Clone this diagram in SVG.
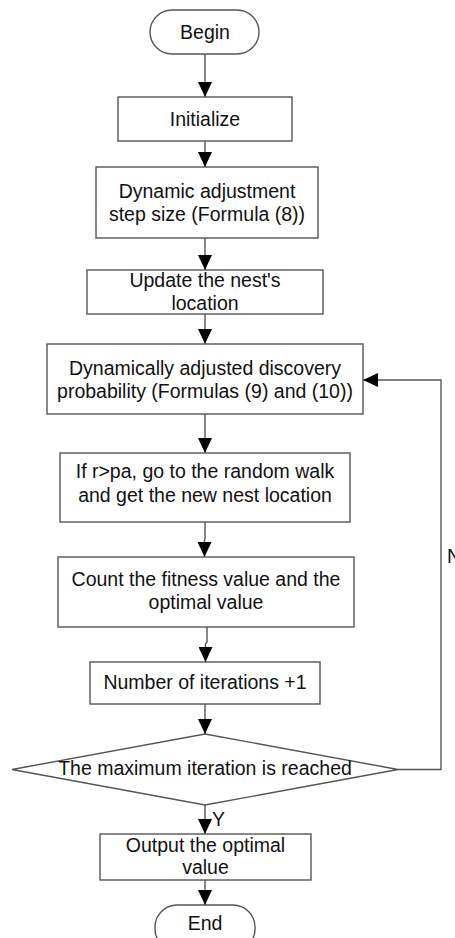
<svg xmlns="http://www.w3.org/2000/svg" width="455" height="938" viewBox="0 0 455 938">
<style>
.s{fill:#fff;stroke:#555;stroke-width:1.4}
.t{font-family:"Liberation Sans",Arial,sans-serif;font-size:19.5px;fill:#111;text-anchor:middle}
.l{font-family:"Liberation Sans",Arial,sans-serif;font-size:19.5px;fill:#111}
.c{fill:none;stroke:#555;stroke-width:1.4}
</style>
<defs>
<marker id="ah" markerUnits="userSpaceOnUse" markerWidth="15" markerHeight="14" refX="15" refY="7" orient="auto" viewBox="0 0 15 14">
<path d="M0,0 L15,7 L0,14 z" fill="#000"/>
</marker>
</defs>
<rect width="455" height="938" fill="#fff"/>
<g id="connectors">
<path class="c" d="M205,54 V97" marker-end="url(#ah)"/>
<path class="c" d="M205,141 V167" marker-end="url(#ah)"/>
<path class="c" d="M205,238 V270" marker-end="url(#ah)"/>
<path class="c" d="M205,314 V344" marker-end="url(#ah)"/>
<path class="c" d="M205,414 V453" marker-end="url(#ah)"/>
<path class="c" d="M205,522 V538 L204.5,541 V557" marker-end="url(#ah)"/>
<path class="c" d="M207,627 V642 L205.5,644 V662" marker-end="url(#ah)"/>
<path class="c" d="M205,704 V734" marker-end="url(#ah)"/>
<path class="c" d="M205,805 V834" marker-end="url(#ah)"/>
<path class="c" d="M205,880 V905" marker-end="url(#ah)"/>
<path class="c" d="M398,769.5 H441 V380 H363" marker-end="url(#ah)"/>
<text class="l" x="447" y="563">N</text>
<text class="l" x="212" y="826">Y</text>
</g>
<g id="begin">
<rect class="s" x="150" y="10" width="109" height="44" rx="22"/>
<text class="t" x="205" y="39">Begin</text>
</g>
<g id="initialize">
<rect class="s" x="118" y="97" width="174" height="44"/>
<text class="t" x="205" y="126">Initialize</text>
</g>
<g id="step">
<rect class="s" x="96" y="167" width="222" height="71"/>
<text class="t" x="207" y="198">Dynamic adjustment</text>
<text class="t" x="207" y="221">step size (Formula (8))</text>
</g>
<g id="update">
<rect class="s" x="87" y="270" width="236" height="44"/>
<text class="t" x="205" y="287">Update the nest's</text>
<text class="t" x="205" y="310">location</text>
</g>
<g id="discovery">
<rect class="s" x="47" y="344" width="316" height="70"/>
<text class="t" x="205" y="375">Dynamically adjusted discovery</text>
<text class="t" x="205" y="398">probability (Formulas (9) and (10))</text>
</g>
<g id="walk">
<rect class="s" x="60" y="453" width="290" height="69"/>
<text class="t" x="205" y="478">If r&gt;pa, go to the random walk</text>
<text class="t" x="205" y="502">and get the new nest location</text>
</g>
<g id="fitness">
<rect class="s" x="58" y="557" width="296" height="70"/>
<text class="t" x="206" y="586">Count the fitness value and the</text>
<text class="t" x="206" y="609">optimal value</text>
</g>
<g id="iterations">
<rect class="s" x="90" y="662" width="230" height="42"/>
<text class="t" x="205" y="689">Number of iterations +1</text>
</g>
<g id="decision">
<polygon class="s" points="205,734 398,769.5 205,805 12,769.5"/>
<text class="t" x="205" y="775">The maximum iteration is reached</text>
</g>
<g id="output">
<rect class="s" x="100" y="834" width="211" height="46"/>
<text class="t" x="205.5" y="852">Output the optimal</text>
<text class="t" x="205.5" y="874">value</text>
</g>
<g id="end">
<rect class="s" x="155" y="905" width="100" height="46" rx="22"/>
<text class="t" x="205" y="930">End</text>
</g>
</svg>
